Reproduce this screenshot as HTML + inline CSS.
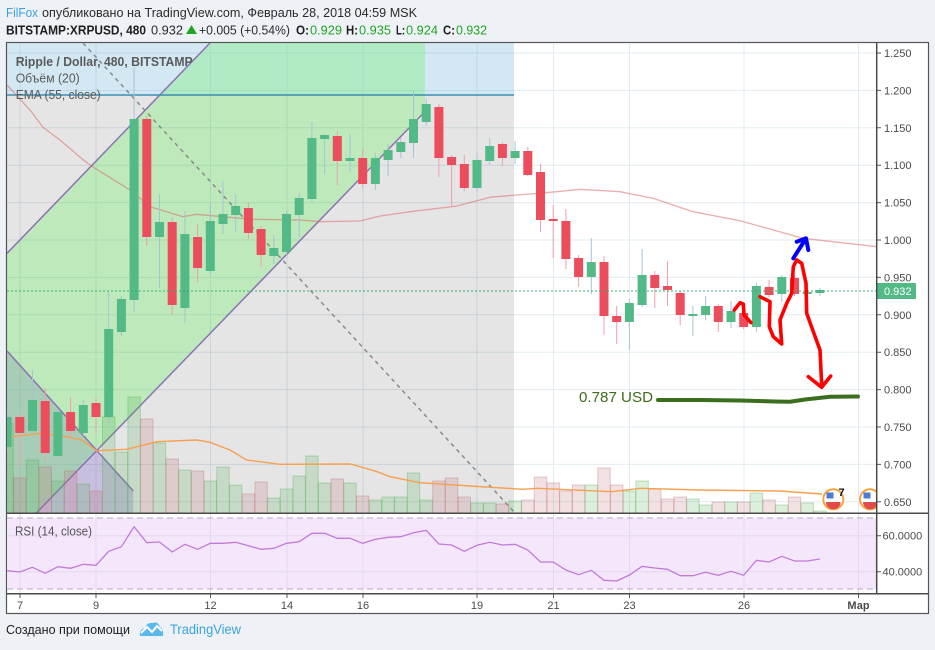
<!DOCTYPE html>
<html><head><meta charset="utf-8"><style>
html,body{margin:0;padding:0;background:#eef2f6;}
svg{display:block;}
text{font-family:"Liberation Sans",Arial,sans-serif;}
</style></head><body>
<svg width="935" height="650" viewBox="0 0 935 650" xmlns="http://www.w3.org/2000/svg">
<defs>
<clipPath id="cp"><rect x="7" y="43" width="870" height="470"/></clipPath>
<clipPath id="cr"><rect x="7" y="514" width="870" height="79"/></clipPath>
</defs>
<rect width="935" height="650" fill="#eef2f6"/>
<!-- header -->
<text x="6" y="17" font-size="13" fill="#3aa0e0" textLength="32" lengthAdjust="spacingAndGlyphs">FilFox</text>
<text x="42" y="17" font-size="13" fill="#2a2a2a" textLength="375" lengthAdjust="spacingAndGlyphs">опубликовано на TradingView.com, Февраль 28, 2018 04:59 MSK</text>
<text x="6" y="34.5" font-size="13" font-weight="bold" fill="#1e1e1e" textLength="140" lengthAdjust="spacingAndGlyphs">BITSTAMP:XRPUSD, 480</text>
<text x="151" y="34.5" font-size="13" fill="#2a2a2a" textLength="32" lengthAdjust="spacingAndGlyphs">0.932</text>
<polygon points="186,34 197,34 191.5,25" fill="#21a421"/>
<text x="199" y="34.5" font-size="13" fill="#2a2a2a" textLength="91" lengthAdjust="spacingAndGlyphs">+0.005 (+0.54%)</text>
<text x="296" y="34.5" font-size="13" font-weight="bold" fill="#1e1e1e" textLength="13" lengthAdjust="spacingAndGlyphs">O:</text>
<text x="310" y="34.5" font-size="13" fill="#21a421" textLength="32" lengthAdjust="spacingAndGlyphs">0.929</text>
<text x="346" y="34.5" font-size="13" font-weight="bold" fill="#1e1e1e" textLength="12" lengthAdjust="spacingAndGlyphs">H:</text>
<text x="359" y="34.5" font-size="13" fill="#21a421" textLength="32" lengthAdjust="spacingAndGlyphs">0.935</text>
<text x="396" y="34.5" font-size="13" font-weight="bold" fill="#1e1e1e" textLength="9" lengthAdjust="spacingAndGlyphs">L:</text>
<text x="406" y="34.5" font-size="13" fill="#21a421" textLength="32" lengthAdjust="spacingAndGlyphs">0.924</text>
<text x="443" y="34.5" font-size="13" font-weight="bold" fill="#1e1e1e" textLength="12" lengthAdjust="spacingAndGlyphs">C:</text>
<text x="456" y="34.5" font-size="13" fill="#21a421" textLength="31" lengthAdjust="spacingAndGlyphs">0.932</text>

<!-- chart box -->
<rect x="6.5" y="42.5" width="922" height="571" fill="#ffffff" stroke="#555" stroke-width="1.2"/>

<g clip-path="url(#cp)">
<!-- grid -->
<g stroke="#e2ebf1" stroke-width="1">
<path d="M7,53H877M7,90.4H877M7,127.8H877M7,165.2H877M7,202.6H877M7,240H877M7,277.4H877M7,314.8H877M7,352.2H877M7,389.6H877M7,427H877M7,464.4H877M7,501.8H877"/>
<path d="M20,43V513M96,43V513M210.5,43V513M287,43V513M363,43V513M477,43V513M553.5,43V513M629.5,43V513M744,43V513M858.5,43V513"/>
</g>
<!-- drawings -->
<rect x="7" y="43" width="507" height="52" fill="rgba(40,140,200,0.2)"/>
<rect x="7" y="95" width="507" height="418" fill="rgba(0,0,0,0.1)"/>
<polygon points="7,351 133.3,491 133.3,513 7,513" fill="rgba(117,77,205,0.25)"/>
<polygon points="7,253.3 210,43 425,43 425,111.5 36.3,513 7,513" fill="rgba(96,242,89,0.3)"/>
<g stroke="#8d72b3" stroke-width="1.5" fill="none">
<path d="M7,253.3L210,43"/>
<path d="M36.3,513L425,111.5"/>
<path d="M7,351L133.3,491"/>
</g>
<path d="M7,95H514" stroke="#3d8eb0" stroke-width="1.5"/>
<path d="M83,43L515,513" stroke="#8a8a8a" stroke-width="1.5" stroke-dasharray="4 4"/>

<!-- volume -->
<g fill="rgba(76,175,80,0.2)" stroke="rgba(76,175,80,0.35)" stroke-width="1">
<rect x="0.9" y="423" width="12.4" height="90"/><rect x="26.3" y="460" width="12.4" height="53"/><rect x="51.7" y="481" width="12.4" height="32"/><rect x="77.1" y="484" width="12.4" height="29"/><rect x="102.5" y="417" width="12.4" height="96"/><rect x="115.2" y="452" width="12.4" height="61"/><rect x="127.9" y="397" width="12.4" height="116"/><rect x="153.3" y="443" width="12.4" height="70"/><rect x="178.7" y="470" width="12.4" height="43"/><rect x="204.1" y="481" width="12.4" height="32"/><rect x="216.8" y="467" width="12.4" height="46"/><rect x="229.5" y="485" width="12.4" height="28"/><rect x="267.6" y="498" width="12.4" height="15"/><rect x="280.3" y="489" width="12.4" height="24"/><rect x="293" y="476" width="12.4" height="37"/><rect x="305.7" y="456" width="12.4" height="57"/><rect x="318.4" y="483" width="12.4" height="30"/><rect x="343.8" y="483" width="12.4" height="30"/><rect x="369.2" y="500" width="12.4" height="13"/><rect x="381.9" y="497" width="12.4" height="16"/><rect x="394.6" y="497" width="12.4" height="16"/><rect x="407.3" y="473" width="12.4" height="40"/><rect x="420" y="500" width="12.4" height="13"/><rect x="470.8" y="503" width="12.4" height="10"/><rect x="483.5" y="503" width="12.4" height="10"/><rect x="508.9" y="501" width="12.4" height="12"/><rect x="585.1" y="485" width="12.4" height="28"/><rect x="623.2" y="491" width="12.4" height="22"/><rect x="635.9" y="481" width="12.4" height="32"/><rect x="686.7" y="499" width="12.4" height="14"/><rect x="699.4" y="505" width="12.4" height="8"/><rect x="724.8" y="502" width="12.4" height="11"/><rect x="750.2" y="493" width="12.4" height="20"/><rect x="775.6" y="505" width="12.4" height="8"/><rect x="801" y="503" width="12.4" height="10"/><rect x="813.7" y="511" width="12.4" height="2"/>
</g>
<g fill="rgba(190,105,110,0.2)" stroke="rgba(190,105,110,0.35)" stroke-width="1">
<rect x="13.6" y="478" width="12.4" height="35"/><rect x="39" y="467" width="12.4" height="46"/><rect x="64.4" y="471" width="12.4" height="42"/><rect x="89.8" y="491" width="12.4" height="22"/><rect x="140.6" y="419" width="12.4" height="94"/><rect x="166" y="459" width="12.4" height="54"/><rect x="191.4" y="471" width="12.4" height="42"/><rect x="242.2" y="494" width="12.4" height="19"/><rect x="254.9" y="482" width="12.4" height="31"/><rect x="331.1" y="479" width="12.4" height="34"/><rect x="356.5" y="496" width="12.4" height="17"/><rect x="432.7" y="481" width="12.4" height="32"/><rect x="445.4" y="478" width="12.4" height="35"/><rect x="458.1" y="497" width="12.4" height="16"/><rect x="496.2" y="504" width="12.4" height="9"/><rect x="521.6" y="500" width="12.4" height="13"/><rect x="534.3" y="477" width="12.4" height="36"/><rect x="547" y="483" width="12.4" height="30"/><rect x="559.7" y="491" width="12.4" height="22"/><rect x="572.4" y="485" width="12.4" height="28"/><rect x="597.8" y="468" width="12.4" height="45"/><rect x="610.5" y="485" width="12.4" height="28"/><rect x="648.6" y="489" width="12.4" height="24"/><rect x="661.3" y="499" width="12.4" height="14"/><rect x="674" y="497" width="12.4" height="16"/><rect x="712.1" y="502" width="12.4" height="11"/><rect x="737.5" y="502" width="12.4" height="11"/><rect x="762.9" y="500" width="12.4" height="13"/><rect x="788.3" y="497" width="12.4" height="16"/>
</g>
<!-- volume MA -->
<path d="M7,437.3L40,433.3L66.7,436.7L81.7,440L96.7,450.7L126.7,449.3L156.7,441.7L196.7,440L210,442.3L230,450L246.7,460L280,464.3L350,464L360,466.7L377,471.7L390,476.7L420,482.7L470,486L523,489.3L537,488.3L590,490.7L612,491.7L640,488.3L700,490L780,491L822,494" fill="none" stroke="#f7a04f" stroke-width="1.4"/>
<!-- EMA -->
<path d="M7,85L30,110L43.3,127.7L60,140L83.3,160L93,167L130,190L150,206.7L183,216.7L197,214.3L233,217.7L253,219.3L300,220L320,221.7L360,221L380,216L410,211.7L457,206L490,197.3L517,195L540,193.3L580,189.3L620,191.7L653,198.3L693,211.7L740,220.7L803,238.3L877,246.7" fill="none" stroke="rgba(220,95,95,0.5)" stroke-width="1.3"/>

<!-- wicks -->
<path stroke="#a6c3d3" stroke-width="1" fill="none" d="M7.1,410V452M32.5,370V433M57.9,410V458M83.3,400V436M108.7,291V425M121.4,296V336M134.1,67V312M159.5,194V288M184.9,211V323M210.3,203V275M223,181V234M235.7,194V232M273.8,235V264M286.5,211V255M299.2,193V237M311.9,122V202M324.6,134V174M350,134V172M375.4,153V190M388.1,144V176M400.8,138V158M413.5,91V158M426.2,99V126M477,153V191M489.7,138V165M515.1,141V164M591.3,238V294M629.4,299V350M642.1,249V307M692.9,306V336M705.6,296V320M731,301V328M756.4,283V332M781.8,275V302M807.2,285V298M819.9,288V296"/>
<path stroke="#f0a0aa" stroke-width="1" fill="none" d="M19.8,413V467M45.2,388V462M70.6,397V440M96,397V433M146.8,116V246M172.2,217V315M197.6,224V283M248.4,203V239M261.1,226V267M337.3,131V185M362.7,149V188M438.9,104V177M451.6,155V206M464.3,155V191M502.4,142V166M527.8,147V176M540.5,164V232M553.2,205V258M565.9,209V269M578.6,255V287M604,256V335M616.7,306V344M654.8,271V308M667.5,261V306M680.2,291V325M718.3,304V332M743.7,309V329M769.1,280V297M794.5,275V296"/>
<!-- bodies -->
<g fill="#53b987">
<rect x="2.6" y="417" width="9" height="30"/><rect x="28" y="400" width="9" height="31"/><rect x="53.4" y="412" width="9" height="44"/><rect x="78.8" y="405" width="9" height="28"/><rect x="104.2" y="329" width="9" height="88"/><rect x="116.9" y="299" width="9" height="33"/><rect x="129.6" y="119" width="9" height="181"/><rect x="155" y="222" width="9" height="15"/><rect x="180.4" y="234" width="9" height="74"/><rect x="205.8" y="221" width="9" height="50"/><rect x="218.5" y="214" width="9" height="10"/><rect x="231.2" y="206" width="9" height="9"/><rect x="269.3" y="248" width="9" height="8"/><rect x="282" y="214" width="9" height="38"/><rect x="294.7" y="198" width="9" height="17"/><rect x="307.4" y="138" width="9" height="61"/><rect x="320.1" y="135" width="9" height="4"/><rect x="345.5" y="158" width="9" height="3"/><rect x="370.9" y="158" width="9" height="26"/><rect x="383.6" y="150" width="9" height="10"/><rect x="396.3" y="142" width="9" height="10"/><rect x="409" y="119" width="9" height="24"/><rect x="421.7" y="104" width="9" height="18"/><rect x="472.5" y="160" width="9" height="28"/><rect x="485.2" y="146" width="9" height="15"/><rect x="510.6" y="151" width="9" height="7"/><rect x="586.8" y="262" width="9" height="15"/><rect x="624.9" y="303" width="9" height="19"/><rect x="637.6" y="275" width="9" height="30"/><rect x="688.4" y="314" width="9" height="2"/><rect x="701.1" y="306" width="9" height="9"/><rect x="726.5" y="311" width="9" height="11"/><rect x="751.9" y="286" width="9" height="41"/><rect x="777.3" y="277" width="9" height="17"/><rect x="802.7" y="292" width="9" height="2"/><rect x="815.4" y="290" width="9" height="3"/>
</g>
<g fill="#eb4d5c">
<rect x="15.3" y="417" width="9" height="16"/><rect x="40.7" y="401" width="9" height="52"/><rect x="66.1" y="412" width="9" height="19"/><rect x="91.5" y="403" width="9" height="14"/><rect x="142.3" y="119" width="9" height="118"/><rect x="167.7" y="222" width="9" height="83"/><rect x="193.1" y="237" width="9" height="31"/><rect x="243.9" y="208" width="9" height="25"/><rect x="256.6" y="229" width="9" height="26"/><rect x="332.8" y="136" width="9" height="25"/><rect x="358.2" y="158" width="9" height="26"/><rect x="434.4" y="107" width="9" height="51"/><rect x="447.1" y="157" width="9" height="8"/><rect x="459.8" y="164" width="9" height="24"/><rect x="497.9" y="144" width="9" height="14"/><rect x="523.3" y="151" width="9" height="24"/><rect x="536" y="172" width="9" height="48"/><rect x="548.7" y="219" width="9" height="2"/><rect x="561.4" y="221" width="9" height="38"/><rect x="574.1" y="258" width="9" height="19"/><rect x="599.5" y="262" width="9" height="54"/><rect x="612.2" y="316" width="9" height="6"/><rect x="650.3" y="275" width="9" height="13"/><rect x="663" y="286" width="9" height="4"/><rect x="675.7" y="293" width="9" height="22"/><rect x="713.8" y="306" width="9" height="16"/><rect x="739.2" y="313" width="9" height="14"/><rect x="764.6" y="287" width="9" height="8"/><rect x="790" y="278" width="9" height="16"/>
</g>
<!-- price line -->
<path d="M7,291H877" stroke="#3fae74" stroke-width="1" stroke-dasharray="2 2"/>

<!-- annotations -->
<g fill="none" stroke="#ff0000" stroke-width="3.6" stroke-linecap="round" stroke-linejoin="round">
<path d="M734.3,310L740,302.7L743.3,304L744,315L751,322.7"/>
<path d="M760,296.7L770,301.7L769.3,326.7L773.3,336.7L781.7,344L780,320L786.7,303.3L791.7,293.3L793.3,266.7L796.7,260L801.7,263.3L806,283.3L806.7,313.3L813.3,331.7L820,350L821.7,385"/>
<path d="M808.3,376.7L821.7,387.3L830.7,376"/>
</g>
<g fill="none" stroke="#0000ff" stroke-width="4" stroke-linecap="round" stroke-linejoin="round">
<path d="M793.3,258.3L805,240"/>
<path d="M796.7,241.7L806,238.3L808.3,250"/>
</g>
<path d="M658,400L700,400L740,400.5L775,401.5L790,401.7L805,399.5L830,396.7L858,396.5" fill="none" stroke="#3b6e1e" stroke-width="4" stroke-linecap="round"/>
<text x="579" y="402" font-size="15" fill="#3d6b1a" textLength="74" lengthAdjust="spacingAndGlyphs">0.787 USD</text>

<!-- events -->
<g>
<circle cx="833.3" cy="499.3" r="10" fill="#ffffff" stroke="#f5a33a" stroke-width="2"/>
<rect x="826.5" y="492.5" width="7" height="6" fill="#4b7bd6"/>
<rect x="826.5" y="499.5" width="13.5" height="2" fill="#ffffff"/>
<path d="M826,502H840.6A7,7 0 0 1 826,502Z" fill="#e24b4b"/>
<text x="838.5" y="496" font-size="11" font-weight="bold" fill="#111">7</text>
<circle cx="870" cy="499.3" r="10" fill="#ffffff" stroke="#f5a33a" stroke-width="2"/>
<rect x="863.5" y="492.5" width="7" height="6" fill="#4b7bd6"/>
<path d="M863,502H877.6A7,7 0 0 1 863,502Z" fill="#e24b4b"/>
</g>
</g>

<!-- legend -->
<text x="15.7" y="66" font-size="13" font-weight="bold" fill="#5a5a5a" textLength="177" lengthAdjust="spacingAndGlyphs">Ripple / Dollar, 480, BITSTAMP</text>
<text x="15.7" y="82.5" font-size="13" fill="#5a5a5a" textLength="64" lengthAdjust="spacingAndGlyphs">Объём (20)</text>
<text x="15.7" y="99" font-size="13" fill="#5a5a5a" textLength="85" lengthAdjust="spacingAndGlyphs">EMA (55, close)</text>

<!-- price axis -->
<g stroke="#555" stroke-width="1">
<path d="M877,53H881M877,90.4H881M877,127.8H881M877,165.2H881M877,202.6H881M877,240H881M877,277.4H881M877,314.8H881M877,352.2H881M877,389.6H881M877,427H881M877,464.4H881M877,501.8H881M877,535.7H881M877,571.7H881"/>
</g>
<g font-size="11" fill="#4a4a4a">
<text x="884" y="57">1.250</text><text x="884" y="94.4">1.200</text><text x="884" y="131.8">1.150</text><text x="884" y="169.2">1.100</text><text x="884" y="206.6">1.050</text><text x="884" y="244">1.000</text><text x="884" y="281.4">0.950</text><text x="884" y="318.8">0.900</text><text x="884" y="356.2">0.850</text><text x="884" y="393.6">0.800</text><text x="884" y="431">0.750</text><text x="884" y="468.4">0.700</text><text x="884" y="505.8">0.650</text>
<text x="882.5" y="539.7">60.0000</text><text x="882.5" y="575.7">40.0000</text>
</g>
<rect x="877" y="283" width="39" height="16" fill="#53b987"/>
<text x="884" y="295.2" font-size="11" fill="#ffffff">0.932</text>

<!-- RSI pane -->
<g clip-path="url(#cr)">
<rect x="7" y="518" width="870" height="71" fill="#f4e7fc"/>
<g stroke="#e3d8ee" stroke-width="1">
<path d="M7,535.7H877M7,571.7H877"/>
<path d="M20,514V593M96,514V593M210.5,514V593M287,514V593M363,514V593M477,514V593M553.5,514V593M629.5,514V593M744,514V593M858.5,514V593"/>
</g>
<path d="M7,518H877M7,589H877" stroke="#b9a6c9" stroke-width="1" stroke-dasharray="6 4"/>
<polyline fill="none" stroke="#c27ad8" stroke-width="1.3" points="7.1,570.7 19.8,572 32.5,567.3 45.2,573.3 57.9,566.7 70.6,568.3 83.3,564.3 96,565.3 108.7,551.3 121.4,546.7 134.1,526.7 146.8,542.7 159.5,542 172.2,552 184.9,544.3 197.6,549.3 210.3,543.3 223,543.3 235.7,542.3 248.4,545.7 261.1,549.3 273.8,548.3 286.5,543.3 299.2,541.7 311.9,533.3 324.6,533.3 337.3,538.3 350,538.3 362.7,543.3 375.4,539.3 388.1,537.3 400.8,536.7 413.5,532.7 426.2,530.3 438.9,544 451.6,545 464.3,551.3 477,545.3 489.7,542.3 502.4,545 515.1,544.3 527.8,550 540.5,562 553.2,562 565.9,570 578.6,574.7 591.3,570.3 604,580.3 616.7,581 629.4,575 642.1,566.3 654.8,568 667.5,569.3 680.2,575.7 692.9,575.7 705.6,572.3 718.3,575.3 731,571.3 743.7,575.3 756.4,560.3 769.1,562 781.8,556.3 794.5,561 807.2,561 819.9,559"/>
</g>
<text x="15" y="535.5" font-size="12.5" fill="#555" textLength="77" lengthAdjust="spacingAndGlyphs">RSI (14, close)</text>

<!-- separators -->
<g stroke="#4a4a4a" stroke-width="1.5">
<path d="M6.5,513.3H928.5"/>
<path d="M6.5,593.8H928.5"/>
<path d="M876.7,42.5V593.8"/>
</g>

<!-- time axis -->
<g stroke="#555" stroke-width="1">
<path d="M20,594V598M96,594V598M210.5,594V598M287,594V598M363,594V598M477,594V598M553.5,594V598M629.5,594V598M744,594V598M858.5,594V598"/>
</g>
<g font-size="11" fill="#4a4a4a" text-anchor="middle">
<text x="20" y="609">7</text><text x="96" y="609">9</text><text x="210.5" y="609">12</text><text x="287" y="609">14</text><text x="363" y="609">16</text><text x="477" y="609">19</text><text x="553.5" y="609">21</text><text x="629.5" y="609">23</text><text x="744" y="609">26</text><text x="858.5" y="609" font-weight="bold">Мар</text>
</g>

<!-- footer -->
<text x="6" y="634" font-size="13" fill="#1e1e1e" textLength="124" lengthAdjust="spacingAndGlyphs">Создано при помощи</text>
<g>
<path d="M140,636 Q139,629 145,628 Q147,622 153,623 Q158,621 160,627 Q164,629 163,636 Z" fill="#5bb8ea"/>
<polyline points="141,633 147,627 152,632 157,626 162,631" fill="none" stroke="#ffffff" stroke-width="2"/>
</g>
<text x="170" y="634" font-size="14" fill="#3ba3dc" textLength="71" lengthAdjust="spacingAndGlyphs">TradingView</text>
</svg>
</body></html>
